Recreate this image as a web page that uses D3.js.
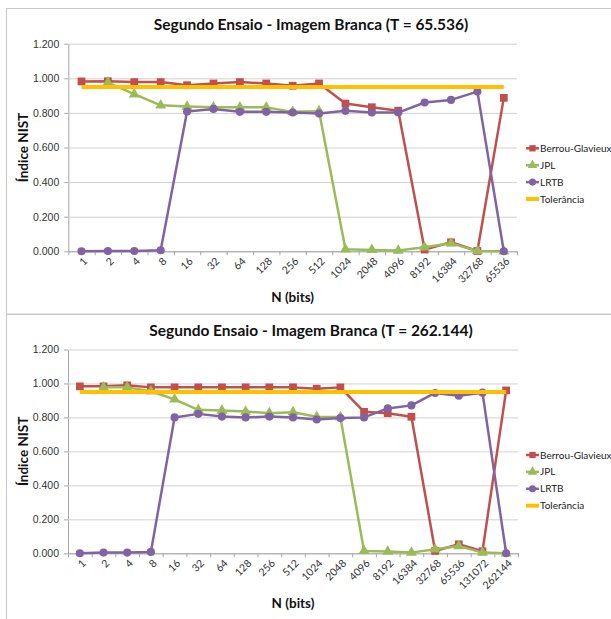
<!DOCTYPE html>
<html>
<head>
<meta charset="utf-8">
<script src="https://cdn.jsdelivr.net/npm/d3@7"></script>
<style>
  body { margin: 0; background: #fff; }
  svg { display: block; font-family: Lato, "Open Sans", sans-serif; }
</style>
</head>
<body>
<div class="container"></div>
<script>
// chart 1 : T = 65.536
const catsA = ["1","2","4","8","16","32","64","128","256","512","1024","2048","4096","8192","16384","32768","65536"];
const berrouA = [0.982,0.983,0.978,0.978,0.960,0.970,0.978,0.970,0.957,0.970,0.854,0.833,0.813,0.010,0.052,0.002,0.887];
const jplA = [null,0.975,0.908,0.844,0.837,0.832,0.832,0.832,0.806,0.810,0.012,0.008,0.004,0.023,0.046,0.002,0.000];
const lrtbA = [0.000,0.002,0.002,0.006,0.808,0.823,0.806,0.806,0.802,0.796,0.812,0.802,0.802,0.860,0.875,0.923,0.000];
const tolA = [0.95,0.95,0.95,0.95,0.95,0.95,0.95,0.95,0.95,0.95,0.95,0.95,0.95,0.95,0.95,0.95,0.95];

// chart 2 : T = 262.144
const catsB = ["1","2","4","8","16","32","64","128","256","512","1024","2048","4096","8192","16384","32768","65536","131072","262144"];
const berrouB = [0.983,0.983,0.989,0.977,0.977,0.977,0.977,0.977,0.977,0.977,0.969,0.977,0.833,0.825,0.804,0.014,0.053,0.012,0.959];
const jplB = [null,0.977,0.977,0.954,0.906,0.845,0.841,0.835,0.825,0.831,0.804,0.802,0.014,0.010,0.004,0.024,0.043,0.004,0.000];
const lrtbB = [0.000,0.004,0.004,0.008,0.800,0.821,0.805,0.800,0.805,0.800,0.788,0.796,0.800,0.853,0.871,0.944,0.928,0.946,0.000];
const tolB = [0.95,0.95,0.95,0.95,0.95,0.95,0.95,0.95,0.95,0.95,0.95,0.95,0.95,0.95,0.95,0.95,0.95,0.95,0.95];

const yTicks = [0, 0.2, 0.4, 0.6, 0.8, 1.0, 1.2];
const seriesNames = ["Berrou-Glavieux", "JPL", "LRTB", "Tolerância"];
const colors = ["#C0504D", "#9BBB59", "#8064A2", "#FFC000"];

const svg = d3.select(".container").append("svg")
  .attr("width", 611)
  .attr("height", 619);

const drawChart = (cfg) => {
  const g = svg.append("g");

  // frame
  g.append("rect")
    .attr("x", 6.5).attr("y", cfg.frameTop + 0.5)
    .attr("width", 640).attr("height", cfg.frameHeight)
    .attr("fill", "none").attr("stroke", "#c8c8c8");

  const x = d3.scaleBand().domain(cfg.cats).range([cfg.left, cfg.right]).padding(0);
  const cx = (c) => x(c) + x.bandwidth() / 2;
  const y = d3.scaleLinear().domain([0, 1.2]).range([cfg.bottom, cfg.top]);

  // gridlines + y labels
  g.append("g")
    .attr("transform", `translate(${cfg.left},0)`)
    .call(d3.axisLeft(y).tickValues(yTicks).tickFormat(d3.format(".3f"))
      .tickSizeInner(-(cfg.right - cfg.left)).tickSizeOuter(0).tickPadding(9))
    .call((a) => a.select(".domain").attr("stroke", "#a6a6a6"))
    .call((a) => a.selectAll(".tick line").attr("stroke", "#d0d0d0"))
    .call((a) => a.selectAll(".tick text").attr("fill", "#333").style("font-size", "10.5px"));

  // small y ticks left of axis
  g.append("g")
    .attr("transform", `translate(${cfg.left},0)`)
    .call(d3.axisLeft(y).tickValues(yTicks).tickFormat("").tickSizeInner(4).tickSizeOuter(0))
    .call((a) => a.select(".domain").remove())
    .call((a) => a.selectAll(".tick line").attr("stroke", "#a6a6a6"));

  // x axis with ticks at category boundaries
  const xb = d3.scaleLinear().domain([0, cfg.cats.length]).range([cfg.left, cfg.right]);
  g.append("g")
    .attr("transform", `translate(0,${cfg.bottom})`)
    .call(d3.axisBottom(xb).tickValues(d3.range(cfg.cats.length + 1)).tickFormat("")
      .tickSizeInner(4).tickSizeOuter(0))
    .call((a) => a.selectAll("line, path").attr("stroke", "#a6a6a6"));

  // rotated category labels
  g.append("g").selectAll("text")
    .data(cfg.cats)
    .join("text")
    .attr("transform", (d) => `translate(${cx(d) + 4},${cfg.bottom + 8}) rotate(-45)`)
    .attr("text-anchor", "end")
    .attr("dy", "0.35em")
    .style("font-size", "10.5px")
    .attr("fill", "#333")
    .text((d) => d);

  const data = [cfg.berrou, cfg.jpl, cfg.lrtb, cfg.tol];
  const line = d3.line()
    .defined((d) => d.v != null)
    .x((d) => cx(d.c))
    .y((d) => y(d.v));

  data.forEach((vals, i) => {
    const pts = vals.map((v, k) => ({ c: cfg.cats[k], v: v }));
    g.append("path")
      .datum(pts)
      .attr("fill", "none")
      .attr("stroke", colors[i])
      .attr("stroke-width", i === 3 ? 4 : 2.5)
      .attr("stroke-linejoin", "round")
      .attr("d", line);

    if (i < 3) {
      const sym = [d3.symbolSquare, d3.symbolTriangle, d3.symbolCircle][i];
      const size = [60, 52, 52][i];
      g.append("g").selectAll("path")
        .data(pts.filter((d) => d.v != null))
        .join("path")
        .attr("transform", (d) => `translate(${cx(d.c)},${y(d.v)})`)
        .attr("d", d3.symbol(sym, size))
        .attr("fill", colors[i]);
    }
  });

  // title
  g.append("text")
    .attr("x", 311).attr("y", cfg.titleY)
    .attr("text-anchor", "middle").attr("dy", "0.35em")
    .style("font-size", "15.5px").style("font-weight", "bold")
    .attr("fill", "#111")
    .text(cfg.title);

  // axis titles
  g.append("text")
    .attr("x", (cfg.left + cfg.right) / 2).attr("y", cfg.xTitleY)
    .attr("text-anchor", "middle").attr("dy", "0.35em")
    .style("font-size", "13.5px").style("font-weight", "bold")
    .attr("fill", "#111")
    .text("N (bits)");

  g.append("text")
    .attr("transform", `translate(23,${(cfg.top + cfg.bottom) / 2}) rotate(-90)`)
    .attr("text-anchor", "middle").attr("dy", "0.35em")
    .style("font-size", "13.5px").style("font-weight", "bold")
    .attr("fill", "#111")
    .text("Índice NIST");

  // legend
  const leg = g.append("g");
  seriesNames.forEach((name, i) => {
    const ly = cfg.legendY + i * 16.9;
    leg.append("line")
      .attr("x1", 526).attr("x2", 539).attr("y1", ly).attr("y2", ly)
      .attr("stroke", colors[i]).attr("stroke-width", i === 3 ? 4 : 2.5);
    if (i < 3) {
      const sym = [d3.symbolSquare, d3.symbolTriangle, d3.symbolCircle][i];
      leg.append("path")
        .attr("transform", `translate(532.5,${ly})`)
        .attr("d", d3.symbol(sym, 40))
        .attr("fill", colors[i]);
    }
    leg.append("text")
      .attr("x", 540).attr("y", ly).attr("dy", "0.35em")
      .style("font-size", "10px")
      .attr("fill", "#222")
      .text(name);
  });
};

drawChart({
  frameTop: 8, frameHeight: 305.5,
  top: 43.7, bottom: 251.3, left: 68.3, right: 517,
  titleY: 24.5, xTitleY: 297.7, legendY: 148.3,
  title: "Segundo Ensaio - Imagem Branca (T = 65.536)",
  cats: catsA, berrou: berrouA, jpl: jplA, lrtb: lrtbA, tol: tolA
});

drawChart({
  frameTop: 314, frameHeight: 330,
  top: 349.5, bottom: 553.3, left: 68, right: 518,
  titleY: 330.7, xTitleY: 603.3, legendY: 455,
  title: "Segundo Ensaio - Imagem Branca (T = 262.144)",
  cats: catsB, berrou: berrouB, jpl: jplB, lrtb: lrtbB, tol: tolB
});
</script>
</body>
</html>
